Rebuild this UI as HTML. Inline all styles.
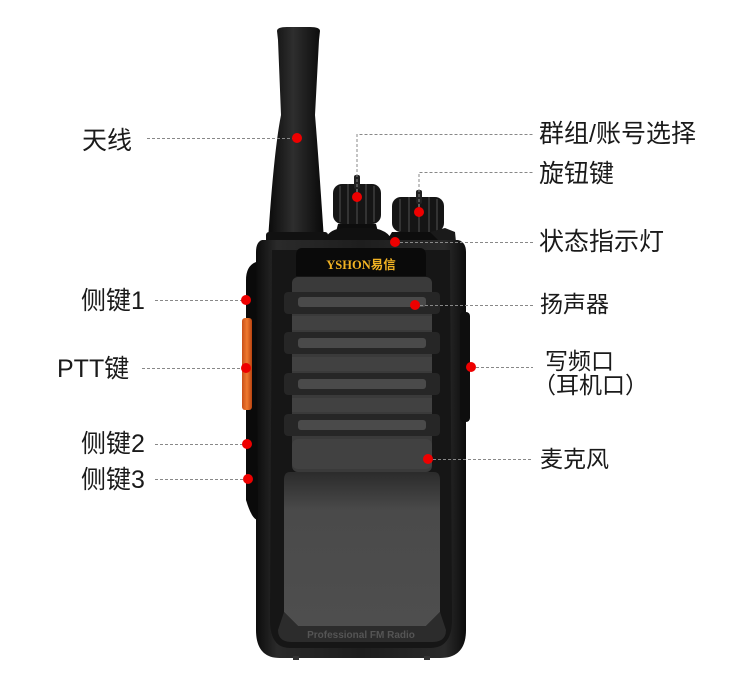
<!DOCTYPE html>
<html><head><meta charset="utf-8"><style>
html,body{margin:0;padding:0;background:#fff;}
svg{display:block;}
text{font-family:"Liberation Sans","Noto Sans CJK SC",sans-serif;fill:#1a1a1a;}
</style></head><body>
<svg width="750" height="693" viewBox="0 0 750 693" xmlns="http://www.w3.org/2000/svg">
<defs>
<linearGradient id="ant" x1="0" x2="1"><stop offset="0" stop-color="#0a0a0a"/><stop offset="0.45" stop-color="#2e2e2e"/><stop offset="1" stop-color="#080808"/></linearGradient>
<linearGradient id="body" x1="0" x2="1"><stop offset="0" stop-color="#0c0c0c"/><stop offset="0.1" stop-color="#2a2a2a"/><stop offset="0.5" stop-color="#1e1e1e"/><stop offset="0.9" stop-color="#2a2a2a"/><stop offset="1" stop-color="#0c0c0c"/></linearGradient>
<linearGradient id="cav" x1="0" y1="0" x2="0" y2="1"><stop offset="0" stop-color="#2b2b2b"/><stop offset="0.25" stop-color="#4a4a4a"/><stop offset="1" stop-color="#4e4e4e"/></linearGradient>
<linearGradient id="orange" x1="0" x2="1"><stop offset="0" stop-color="#c9501a"/><stop offset="0.5" stop-color="#f07a30"/><stop offset="1" stop-color="#b84210"/></linearGradient>
</defs>

<!-- antenna -->
<path d="M277 31 Q277 27 287 27 L310 27 Q320 27 320 31 L319 40 L315 115 Q318 150 324 240 L268 240 Q274 150 281 115 L278 40 Z" fill="url(#ant)"/>
<rect x="266" y="232" width="62" height="12" rx="3" fill="#111"/>

<!-- knob 1 -->
<rect x="333" y="184" width="48" height="40" rx="9" fill="#151515"/>
<path d="M340 186 v36 M348 184 v40 M357 184 v40 M366 184 v40 M374 186 v36" stroke="#333" stroke-width="2"/>
<rect x="354" y="175" width="6" height="14" rx="2" fill="#222"/>
<path d="M338 224 L376 224 L380 240 L334 240 Z" fill="#0d0d0d"/>
<path d="M324 240 Q330 228 345 228 L372 228 Q388 230 392 240 Z" fill="#101010"/>

<!-- knob 2 -->
<rect x="392" y="197" width="52" height="35" rx="9" fill="#151515"/>
<path d="M400 199 v32 M409 197 v35 M419 197 v35 M429 197 v35 M437 199 v32" stroke="#333" stroke-width="2"/>
<rect x="416" y="190" width="6" height="14" rx="2" fill="#222"/>
<path d="M392 232 L448 232 L455 242 L386 242 Z" fill="#0d0d0d"/>
<path d="M430 232 L445 228 L455 232 L456 242 L440 242 Z" fill="#1a1a1a"/>

<!-- body -->
<path d="M262 240 L458 240 Q466 242 466 252 L466 630 Q466 658 440 658 L280 658 Q256 658 256 630 L256 252 Q256 242 262 240 Z" fill="url(#body)"/>
<path d="M272 250 L450 250 L452 620 Q452 648 430 648 L290 648 Q270 648 270 620 Z" fill="#161616"/>
<path d="M256 262 Q246 266 246 280 L246 500 Q252 520 258 520 Z" fill="#0a0a0a"/>
<rect x="242" y="318" width="10" height="92" rx="3" fill="url(#orange)"/>
<rect x="460" y="312" width="10" height="110" rx="4" fill="#0e0e0e"/>
<path d="M302 248 L420 248 Q426 248 426 256 L426 276 L296 276 L296 256 Q296 248 302 248 Z" fill="#0a0a0a"/>
<text x="361" y="269" text-anchor="middle" font-size="12.5" font-weight="bold" style="fill:#f2b323;font-family:'Liberation Serif','Noto Sans CJK SC',serif">YSHON易信</text>
<rect x="292" y="277" width="140" height="195" rx="6" fill="#3a3a3a"/>
<g fill="#262626">
<rect x="284" y="292" width="156" height="22" rx="4"/>
<rect x="284" y="332" width="156" height="22" rx="4"/>
<rect x="284" y="373" width="156" height="22" rx="4"/>
<rect x="284" y="414" width="156" height="22" rx="4"/>
</g>
<g fill="#4a4a4a">
<rect x="298" y="297" width="128" height="10" rx="3"/>
<rect x="298" y="338" width="128" height="10" rx="3"/>
<rect x="298" y="379" width="128" height="10" rx="3"/>
<rect x="298" y="420" width="128" height="10" rx="3"/>
</g>
<g fill="#414141">
<rect x="292" y="316" width="140" height="14"/>
<rect x="292" y="357" width="140" height="14"/>
<rect x="292" y="398" width="140" height="14"/>
<rect x="292" y="439" width="140" height="30" rx="6"/>
</g>
<path d="M290 472 L434 472 Q440 472 440 480 L440 612 L426 626 L298 626 L284 612 L284 480 Q284 472 290 472 Z" fill="url(#cav)"/>
<path d="M284 612 L298 626 L426 626 L440 612 L446 630 Q446 642 432 642 L292 642 Q278 642 278 630 Z" fill="#2c2c2c"/>
<text x="361" y="638" text-anchor="middle" font-size="10" font-weight="bold" style="fill:#555">Professional FM Radio</text>
<rect x="293" y="656" width="6" height="4" fill="#333"/><rect x="424" y="656" width="6" height="4" fill="#333"/>

<g stroke="#888" stroke-width="1" stroke-dasharray="3,2" fill="none">
<path d="M147 138.5 H297"/>
<path d="M357 197 V134.5 H533"/>
<path d="M419 212 V172.5 H533"/>
<path d="M395 242.5 H533"/>
<path d="M415 305.5 H533"/>
<path d="M471 367.5 H533"/>
<path d="M428 459.5 H533"/>
<path d="M155 300.5 H246"/>
<path d="M142 368.5 H246"/>
<path d="M155 444.5 H247"/>
<path d="M155 479.5 H248"/>
</g>
<g fill="#ee0000">
<circle cx="297" cy="138" r="5"/>
<circle cx="357" cy="197" r="5"/>
<circle cx="419" cy="212" r="5"/>
<circle cx="395" cy="242" r="5"/>
<circle cx="415" cy="305" r="5"/>
<circle cx="471" cy="367" r="5"/>
<circle cx="428" cy="459" r="5"/>
<circle cx="246" cy="300" r="5"/>
<circle cx="246" cy="368" r="5"/>
<circle cx="247" cy="444" r="5"/>
<circle cx="248" cy="479" r="5"/>
</g>

<g font-size="25">
<text x="82" y="149">天线</text>
<text x="81" y="309">侧键1</text>
<text x="57" y="377">PTT键</text>
<text x="81" y="452">侧键2</text>
<text x="81" y="488">侧键3</text>
<text x="539" y="142">群组/账号选择</text>
<text x="539" y="182">旋钮键</text>
<text x="539" y="250">状态指示灯</text>
</g>
<g font-size="23">
<text x="540" y="312">扬声器</text>
<text x="545" y="369">写频口</text>
<text x="533" y="393">（耳机口）</text>
<text x="540" y="467">麦克风</text>
</g>
</svg>
</body></html>
